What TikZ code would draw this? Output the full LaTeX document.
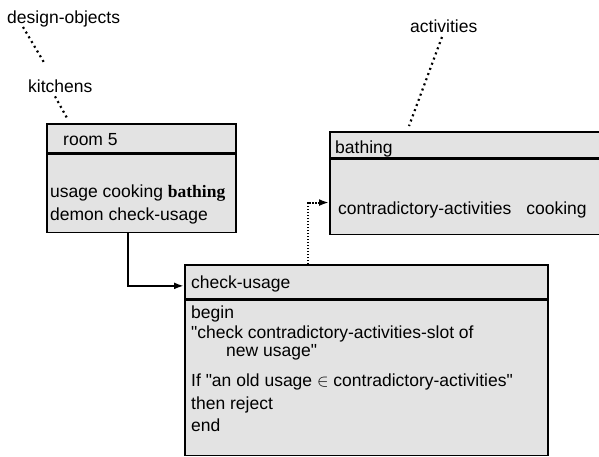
\documentclass[tikz,border=0pt]{standalone}
\usepackage{fontspec}
\setmainfont{Liberation Sans}[Ligatures=TeXOff]
\newfontfamily\slotserif{Liberation Serif}
\usetikzlibrary{arrows.meta,positioning,calc}
\tikzstyle{framepart}=[draw,fill=black!11,line width=1.7pt,inner sep=0pt,minimum width=#1]
\tikzstyle{slottext}=[anchor=base west,inner sep=0pt,font=\fontsize{17.5}{20}\selectfont]
\tikzstyle{isalink}=[line width=2.2pt,dash pattern=on 2pt off 3.5pt]
\tikzstyle{slotlink}=[line width=2pt,-{Latex[length=10pt,width=7pt]}]

\begin{document}
\begin{tikzpicture}[x=1pt,y=-1pt]
    \clip (0,0) rectangle (599,456);
    \node [slottext] (designobj) at (7,23) {design-objects};
    \node [slottext] (kitchens) at (28,92) {kitchens};
    \node [slottext] (activities) at (410,32) {activities};
    % room 5 frame
    \node [framepart=189pt,minimum height=29pt,anchor=north west] (roomhead) at (46,123) {};
    \node [framepart=189pt,minimum height=78pt,below=0pt of roomhead] (roombody) {};
    \node [slottext] (roomname) at (63,145) {room 5};
    \node [slottext] (usage) at (50,197) {usage cooking {\slotserif\bfseries bathing}};
    \node [slottext] (demon) at (50,220) {demon check-usage};
    % bathing frame
    \node [framepart=290pt,minimum height=26pt,anchor=north west] (bathhead) at (329,131) {};
    \node [framepart=290pt,minimum height=75pt,below=0pt of bathhead] (bathbody) {};
    \node [slottext] (bathname) at (335,153) {bathing};
    \node [slottext] (contra) at (338,214) {contradictory-activities\hspace{15pt}cooking};
    % check-usage frame
    \node [framepart=363pt,minimum height=34pt,anchor=north west] (checkhead) at (184,264) {};
    \node [framepart=363pt,minimum height=155pt,below=0pt of checkhead] (checkbody) {};
    \node [slottext] (checkname) at (191,288) {check-usage};
    \node [slottext] (lbegin) at (191,318) {begin};
    \node [slottext] (lcheck) at (191,338) {"check contradictory-activities-slot of};
    \node [slottext] (lnew) at (226,356) {new usage"};
    \node [slottext] (lif) at (191,386) {If "an old usage $\in$ contradictory-activities"};
    \node [slottext] (lthen) at (191,409) {then reject};
    \node [slottext] (lend) at (191,431) {end};
    % links
    \draw [isalink] ([xshift=16pt,yshift=-4pt]designobj.base west) -- ([xshift=17pt,yshift=15pt]kitchens.north west);
    \draw [isalink] ([xshift=27pt,yshift=-4pt]kitchens.south west) -- ([xshift=21pt,yshift=5pt]roomhead.north west);
    \draw [isalink] ([xshift=32pt,yshift=-5pt]activities.base west) -- ([xshift=80pt,yshift=5pt]bathhead.north west);
    \draw [slotlink] ([xshift=-13.5pt]roombody.south) |- ([yshift=-4pt]checkhead.west);
    \draw [slotlink,dash pattern=on 1.5pt off 1.5pt] ([xshift=-58.5pt]checkhead.north) |- ([yshift=-5.5pt]bathbody.west);
\end{tikzpicture}
\end{document}
